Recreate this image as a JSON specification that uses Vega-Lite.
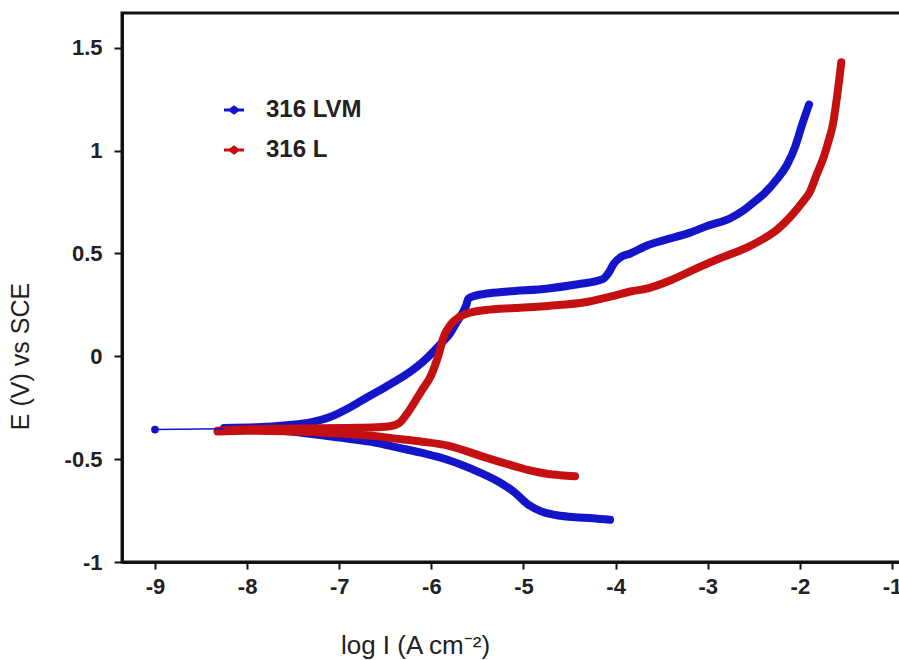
{
  "$schema": "https://vega.github.io/schema/vega-lite/v6.json",
  "autosize": {"type": "none"},
  "padding": {"left": 122, "top": 13, "right": 0, "bottom": 98},
  "width": 780,
  "height": 549,
  "background": "white",
  "config": {
    "view": {"stroke": "#111", "strokeWidth": 3},
    "axis": {
      "domainColor": "#111", "domainWidth": 3, "tickColor": "#111", "tickWidth": 2,
      "grid": false, "labelFont": "Liberation Sans", "labelFontWeight": "bold",
      "labelFontSize": 22, "labelColor": "#222", "titleFont": "Liberation Sans",
      "titleFontWeight": "normal", "titleColor": "#222"
    }
  },
  "data": {"values": [
    {"s": "316 LVM", "b": "t", "i": 0, "x": -9.0, "y": -0.356},
    {"s": "316 LVM", "b": "t", "i": 1, "x": -8.25, "y": -0.352},
    {"s": "316 LVM", "b": "c", "i": 0, "x": -8.25, "y": -0.352},
    {"s": "316 LVM", "b": "c", "i": 1, "x": -7.8, "y": -0.356},
    {"s": "316 LVM", "b": "c", "i": 2, "x": -7.43, "y": -0.37},
    {"s": "316 LVM", "b": "c", "i": 3, "x": -7.0, "y": -0.395},
    {"s": "316 LVM", "b": "c", "i": 4, "x": -6.6, "y": -0.42},
    {"s": "316 LVM", "b": "c", "i": 5, "x": -6.35, "y": -0.445},
    {"s": "316 LVM", "b": "c", "i": 6, "x": -6.1, "y": -0.47},
    {"s": "316 LVM", "b": "c", "i": 7, "x": -5.81, "y": -0.505},
    {"s": "316 LVM", "b": "c", "i": 8, "x": -5.55, "y": -0.55},
    {"s": "316 LVM", "b": "c", "i": 9, "x": -5.27, "y": -0.61},
    {"s": "316 LVM", "b": "c", "i": 10, "x": -5.1, "y": -0.66},
    {"s": "316 LVM", "b": "c", "i": 11, "x": -4.95, "y": -0.72},
    {"s": "316 LVM", "b": "c", "i": 12, "x": -4.8, "y": -0.755},
    {"s": "316 LVM", "b": "c", "i": 13, "x": -4.6, "y": -0.775},
    {"s": "316 LVM", "b": "c", "i": 14, "x": -4.44, "y": -0.782},
    {"s": "316 LVM", "b": "c", "i": 15, "x": -4.25, "y": -0.787},
    {"s": "316 LVM", "b": "c", "i": 16, "x": -4.06, "y": -0.795},
    {"s": "316 LVM", "b": "a", "i": 0, "x": -8.25, "y": -0.348},
    {"s": "316 LVM", "b": "a", "i": 1, "x": -7.9, "y": -0.345},
    {"s": "316 LVM", "b": "a", "i": 2, "x": -7.57, "y": -0.335},
    {"s": "316 LVM", "b": "a", "i": 3, "x": -7.3, "y": -0.32},
    {"s": "316 LVM", "b": "a", "i": 4, "x": -7.1, "y": -0.295},
    {"s": "316 LVM", "b": "a", "i": 5, "x": -6.89, "y": -0.25},
    {"s": "316 LVM", "b": "a", "i": 6, "x": -6.7, "y": -0.2},
    {"s": "316 LVM", "b": "a", "i": 7, "x": -6.52, "y": -0.155},
    {"s": "316 LVM", "b": "a", "i": 8, "x": -6.35, "y": -0.11},
    {"s": "316 LVM", "b": "a", "i": 9, "x": -6.23, "y": -0.075},
    {"s": "316 LVM", "b": "a", "i": 10, "x": -6.1, "y": -0.03},
    {"s": "316 LVM", "b": "a", "i": 11, "x": -5.91, "y": 0.055},
    {"s": "316 LVM", "b": "a", "i": 12, "x": -5.8, "y": 0.11},
    {"s": "316 LVM", "b": "a", "i": 13, "x": -5.72, "y": 0.17},
    {"s": "316 LVM", "b": "a", "i": 14, "x": -5.65, "y": 0.22},
    {"s": "316 LVM", "b": "a", "i": 15, "x": -5.62, "y": 0.25},
    {"s": "316 LVM", "b": "a", "i": 16, "x": -5.6, "y": 0.28},
    {"s": "316 LVM", "b": "a", "i": 17, "x": -5.52, "y": 0.295},
    {"s": "316 LVM", "b": "a", "i": 18, "x": -5.4, "y": 0.305},
    {"s": "316 LVM", "b": "a", "i": 19, "x": -5.17, "y": 0.315},
    {"s": "316 LVM", "b": "a", "i": 20, "x": -4.73, "y": 0.33},
    {"s": "316 LVM", "b": "a", "i": 21, "x": -4.41, "y": 0.35},
    {"s": "316 LVM", "b": "a", "i": 22, "x": -4.14, "y": 0.375},
    {"s": "316 LVM", "b": "a", "i": 23, "x": -4.07, "y": 0.41},
    {"s": "316 LVM", "b": "a", "i": 24, "x": -4.02, "y": 0.45},
    {"s": "316 LVM", "b": "a", "i": 25, "x": -3.95, "y": 0.48},
    {"s": "316 LVM", "b": "a", "i": 26, "x": -3.84, "y": 0.5},
    {"s": "316 LVM", "b": "a", "i": 27, "x": -3.65, "y": 0.54},
    {"s": "316 LVM", "b": "a", "i": 28, "x": -3.47, "y": 0.565},
    {"s": "316 LVM", "b": "a", "i": 29, "x": -3.2, "y": 0.6},
    {"s": "316 LVM", "b": "a", "i": 30, "x": -3.0, "y": 0.635},
    {"s": "316 LVM", "b": "a", "i": 31, "x": -2.76, "y": 0.67},
    {"s": "316 LVM", "b": "a", "i": 32, "x": -2.61, "y": 0.71},
    {"s": "316 LVM", "b": "a", "i": 33, "x": -2.47, "y": 0.76},
    {"s": "316 LVM", "b": "a", "i": 34, "x": -2.39, "y": 0.79},
    {"s": "316 LVM", "b": "a", "i": 35, "x": -2.25, "y": 0.86},
    {"s": "316 LVM", "b": "a", "i": 36, "x": -2.14, "y": 0.93},
    {"s": "316 LVM", "b": "a", "i": 37, "x": -2.05, "y": 1.02},
    {"s": "316 LVM", "b": "a", "i": 38, "x": -1.98, "y": 1.12},
    {"s": "316 LVM", "b": "a", "i": 39, "x": -1.9, "y": 1.224},
    {"s": "316 L", "b": "c", "i": 0, "x": -8.32, "y": -0.366},
    {"s": "316 L", "b": "c", "i": 1, "x": -8.0, "y": -0.362},
    {"s": "316 L", "b": "c", "i": 2, "x": -7.6, "y": -0.364},
    {"s": "316 L", "b": "c", "i": 3, "x": -7.2, "y": -0.37},
    {"s": "316 L", "b": "c", "i": 4, "x": -6.9, "y": -0.378},
    {"s": "316 L", "b": "c", "i": 5, "x": -6.6, "y": -0.388},
    {"s": "316 L", "b": "c", "i": 6, "x": -6.35, "y": -0.402},
    {"s": "316 L", "b": "c", "i": 7, "x": -6.1, "y": -0.415},
    {"s": "316 L", "b": "c", "i": 8, "x": -5.81, "y": -0.435},
    {"s": "316 L", "b": "c", "i": 9, "x": -5.46, "y": -0.485},
    {"s": "316 L", "b": "c", "i": 10, "x": -5.09, "y": -0.535},
    {"s": "316 L", "b": "c", "i": 11, "x": -4.92, "y": -0.556},
    {"s": "316 L", "b": "c", "i": 12, "x": -4.73, "y": -0.572},
    {"s": "316 L", "b": "c", "i": 13, "x": -4.6, "y": -0.578},
    {"s": "316 L", "b": "c", "i": 14, "x": -4.44, "y": -0.583},
    {"s": "316 L", "b": "a", "i": 0, "x": -8.32, "y": -0.362},
    {"s": "316 L", "b": "a", "i": 1, "x": -8.0, "y": -0.355},
    {"s": "316 L", "b": "a", "i": 2, "x": -7.6, "y": -0.352},
    {"s": "316 L", "b": "a", "i": 3, "x": -7.2, "y": -0.35},
    {"s": "316 L", "b": "a", "i": 4, "x": -6.9, "y": -0.348},
    {"s": "316 L", "b": "a", "i": 5, "x": -6.6, "y": -0.345},
    {"s": "316 L", "b": "a", "i": 6, "x": -6.45, "y": -0.34},
    {"s": "316 L", "b": "a", "i": 7, "x": -6.35, "y": -0.325},
    {"s": "316 L", "b": "a", "i": 8, "x": -6.25, "y": -0.27},
    {"s": "316 L", "b": "a", "i": 9, "x": -6.11, "y": -0.17},
    {"s": "316 L", "b": "a", "i": 10, "x": -6.0, "y": -0.09},
    {"s": "316 L", "b": "a", "i": 11, "x": -5.92, "y": 0.01},
    {"s": "316 L", "b": "a", "i": 12, "x": -5.87, "y": 0.09},
    {"s": "316 L", "b": "a", "i": 13, "x": -5.78, "y": 0.16},
    {"s": "316 L", "b": "a", "i": 14, "x": -5.7, "y": 0.19},
    {"s": "316 L", "b": "a", "i": 15, "x": -5.63, "y": 0.205},
    {"s": "316 L", "b": "a", "i": 16, "x": -5.41, "y": 0.225},
    {"s": "316 L", "b": "a", "i": 17, "x": -5.1, "y": 0.235},
    {"s": "316 L", "b": "a", "i": 18, "x": -4.73, "y": 0.245},
    {"s": "316 L", "b": "a", "i": 19, "x": -4.3, "y": 0.265},
    {"s": "316 L", "b": "a", "i": 20, "x": -4.01, "y": 0.295},
    {"s": "316 L", "b": "a", "i": 21, "x": -3.84, "y": 0.315},
    {"s": "316 L", "b": "a", "i": 22, "x": -3.65, "y": 0.33},
    {"s": "316 L", "b": "a", "i": 23, "x": -3.4, "y": 0.37},
    {"s": "316 L", "b": "a", "i": 24, "x": -3.11, "y": 0.43},
    {"s": "316 L", "b": "a", "i": 25, "x": -2.85, "y": 0.48},
    {"s": "316 L", "b": "a", "i": 26, "x": -2.57, "y": 0.53},
    {"s": "316 L", "b": "a", "i": 27, "x": -2.4, "y": 0.57},
    {"s": "316 L", "b": "a", "i": 28, "x": -2.25, "y": 0.615},
    {"s": "316 L", "b": "a", "i": 29, "x": -2.1, "y": 0.68},
    {"s": "316 L", "b": "a", "i": 30, "x": -1.96, "y": 0.756},
    {"s": "316 L", "b": "a", "i": 31, "x": -1.89, "y": 0.8},
    {"s": "316 L", "b": "a", "i": 32, "x": -1.82, "y": 0.88},
    {"s": "316 L", "b": "a", "i": 33, "x": -1.74, "y": 0.97},
    {"s": "316 L", "b": "a", "i": 34, "x": -1.68, "y": 1.06},
    {"s": "316 L", "b": "a", "i": 35, "x": -1.64, "y": 1.13},
    {"s": "316 L", "b": "a", "i": 36, "x": -1.6, "y": 1.25},
    {"s": "316 L", "b": "a", "i": 37, "x": -1.55, "y": 1.43}
  ]},
  "encoding": {
    "x": {"field": "x", "type": "quantitative",
      "scale": {"domain": [-9.358, -0.891], "nice": false, "zero": false},
      "axis": {"values": [-9, -8, -7, -6, -5, -4, -3, -2, -1], "labelExpr": "toString(datum.value)",
        "tickSize": 7, "labelPadding": 7, "title": "log I (A cm⁻²)", "titleFontSize": 26,
        "titleAnchor": "start", "titleAlign": "center", "titleX": 293, "titleY": 91, "titleBaseline": "alphabetic"}},
    "y": {"field": "y", "type": "quantitative",
      "scale": {"domain": [-1, 1.669], "nice": false, "zero": false},
      "axis": {"values": [-1, -0.5, 0, 0.5, 1, 1.5], "labelExpr": "toString(datum.value)",
        "tickSize": 8, "labelPadding": 12, "title": "E (V) vs SCE", "titleFontSize": 25,
        "titleAlign": "center", "titleX": -102, "titleY": 343, "titleBaseline": "middle", "titleAngle": -90}},
    "color": {"field": "s", "type": "nominal",
      "scale": {"domain": ["316 LVM", "316 L"], "range": ["#1414c8", "#c41010"]},
      "legend": {"orient": "none", "legendX": 100, "legendY": 85, "title": null, "padding": 0,
        "symbolType": "M-1,0L1,0M-0.4,0L0,-0.28L0.4,0L0,0.28Z",
        "symbolSize": 400, "symbolStrokeWidth": 3, "symbolOpacity": 1,
        "labelFont": "Liberation Sans", "labelFontWeight": "bold", "labelFontSize": 24,
        "labelColor": "#222", "labelOffset": 20, "rowPadding": 16}}
  },
  "layer": [
    {
      "transform": [{"filter": "datum.b != 't'"}],
      "mark": {"type": "line", "strokeWidth": 8, "strokeCap": "round", "strokeJoin": "round", "interpolate": "monotone"},
      "encoding": {
        "detail": {"field": "b"},
        "order": {"field": "i", "type": "quantitative"}
      }
    },
    {
      "transform": [{"filter": "datum.b == 't'"}],
      "mark": {"type": "line", "strokeWidth": 1.5},
      "encoding": {
        "order": {"field": "i", "type": "quantitative"}
      }
    },
    {
      "transform": [{"filter": "datum.b == 't' && datum.i == 0"}],
      "mark": {"type": "point", "filled": true, "opacity": 1, "size": 60, "shape": "circle"},
      "encoding": {}
    }
  ]
}
